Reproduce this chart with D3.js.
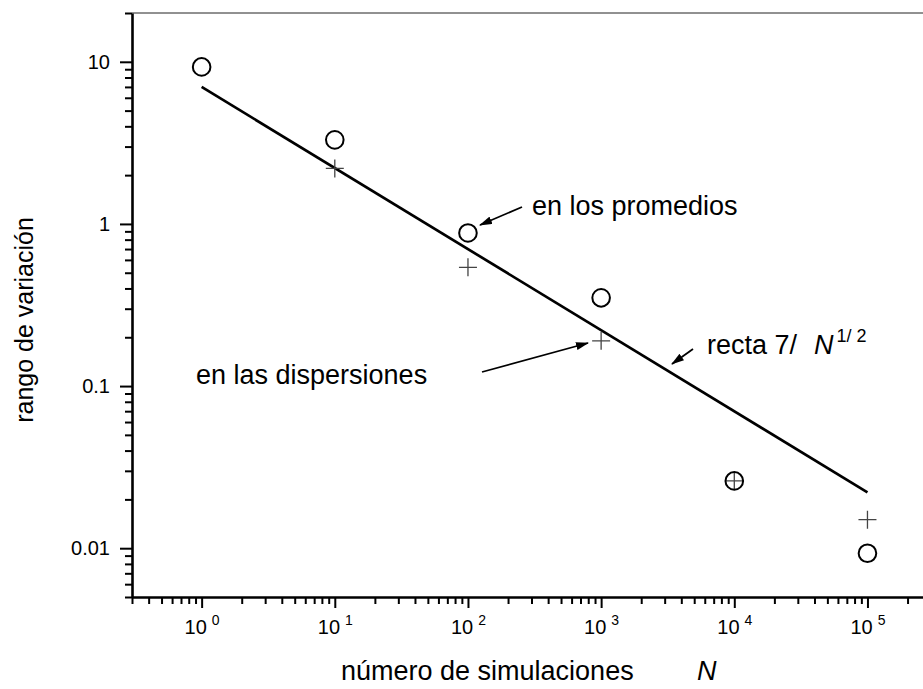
<!DOCTYPE html>
<html>
<head>
<meta charset="utf-8">
<script src="https://cdn.jsdelivr.net/npm/d3@7"></script>
<style>
  body { margin: 0; background: #fff; }
  text { font-family: "Liberation Sans", Arial, sans-serif; fill: #000; }
</style>
</head>
<body>
<div id="chart"></div>
<script>
// data
const simulaciones = [1, 10, 100, 1000, 10000, 100000];
const promedios = [9.3, 3.3, 0.88, 0.35, 0.026, 0.0093];
const dispersionesN = [10, 100, 1000, 10000, 100000];
const dispersiones = [2.2, 0.54, 0.19, 0.026, 0.015];
// fitted line 7/sqrt(N), its two ends
const rectaN = [1, 100000];
const rectaV = [7, 0.0221];
// tick labels
const yTicks = [0.01, 0.1, 1, 10];
const yTickLabels = ["0.01", "0.1", "1", "10"];
const xTicks = [1, 10, 100, 1000, 10000, 100000];

const width = 923, height = 689;
const margin = { top: 13, left: 132, bottom: 92 };

const svg = d3
  .select("#chart")
  .append("svg")
  .attr("width", width)
  .attr("height", height);

// scales
const x = d3.scaleLog().domain([0.3, 3e5]).range([margin.left, 931]);
const y = d3.scaleLog().domain([20, 0.005]).range([margin.top, height - margin.bottom]);

// minor ticks 2..9 per decade
const minorTicks = (lo, hi) => {
  const out = [];
  for (let e = Math.floor(Math.log10(lo)); e <= Math.ceil(Math.log10(hi)); e++) {
    for (let m = 2; m <= 9; m++) {
      const v = m * Math.pow(10, e);
      if (v >= lo && v <= hi) out.push(v);
    }
  }
  return out;
};

// top frame line (thin)
svg
  .append("line")
  .attr("x1", x.range()[0])
  .attr("x2", x.range()[1])
  .attr("y1", y.range()[0])
  .attr("y2", y.range()[0])
  .attr("stroke", "#222")
  .attr("stroke-width", 1);

// Y axis, minor ticks
svg
  .append("g")
  .attr("transform", `translate(${margin.left},0)`)
  .call(d3.axisLeft(y).tickValues(minorTicks(0.005, 20)).tickSize(7).tickSizeOuter(0).tickFormat(""))
  .call((g) => g.selectAll("line").attr("stroke-width", 2))
  .call((g) => g.select(".domain").attr("stroke-width", 2.6));

// Y axis, major ticks
svg
  .append("g")
  .attr("transform", `translate(${margin.left},0)`)
  .call(
    d3
      .axisLeft(y)
      .tickValues(yTicks)
      .tickSize(12)
      .tickSizeOuter(0)
      .tickPadding(10)
      .tickFormat((d, i) => yTickLabels[i])
  )
  .call((g) => g.select(".domain").remove())
  .call((g) => g.selectAll("line").attr("stroke-width", 2))
  .call((g) => g.selectAll("text").attr("font-size", 20).attr("font-family", null));

// X axis, minor ticks
const xAxisY = y.range()[1];
svg
  .append("g")
  .attr("transform", `translate(0,${xAxisY})`)
  .call(d3.axisBottom(x).tickValues(minorTicks(0.3, 3e5)).tickSize(7).tickSizeOuter(0).tickFormat(""))
  .call((g) => g.selectAll("line").attr("stroke-width", 2))
  .call((g) => g.select(".domain").attr("stroke-width", 2.6));

// X axis, major ticks with 10^n labels
svg
  .append("g")
  .attr("transform", `translate(0,${xAxisY})`)
  .call(d3.axisBottom(x).tickValues(xTicks).tickSize(11).tickSizeOuter(0).tickFormat(""))
  .call((g) => g.select(".domain").remove())
  .call((g) => g.selectAll("line").attr("stroke-width", 2))
  .call((g) =>
    g.selectAll(".tick").each(function (d) {
      const t = d3
        .select(this)
        .select("text")
        .attr("y", 37)
        .attr("dy", null)
        .attr("font-size", 20)
        .attr("font-family", null);
      t.append("tspan").text("10");
      t.append("tspan")
        .attr("dx", 5)
        .attr("dy", -9)
        .attr("font-size", 14)
        .text(Math.round(Math.log10(d)));
    })
  );

// axis titles
svg
  .append("text")
  .attr("transform", `translate(33,${(y(yTicks[0]) + y(yTicks[3])) / 2 + 15}) rotate(-90)`)
  .attr("text-anchor", "middle")
  .attr("font-size", 25)
  .text("rango de variación");

svg
  .append("text")
  .attr("x", 341)
  .attr("y", 680)
  .attr("font-size", 27)
  .text("número de simulaciones");

svg
  .append("text")
  .attr("x", 697)
  .attr("y", 680)
  .attr("font-size", 27)
  .attr("font-style", "italic")
  .text("N");

// fitted line
svg
  .append("path")
  .datum(rectaN.map((n, i) => [n, rectaV[i]]))
  .attr("fill", "none")
  .attr("stroke", "#000")
  .attr("stroke-width", 2.7)
  .attr("d", d3.line().x((d) => x(d[0])).y((d) => y(d[1])));

// crosses (dispersiones)
svg
  .append("g")
  .selectAll("path")
  .data(dispersionesN.map((n, i) => [n, dispersiones[i]]))
  .join("path")
  .attr("transform", (d) => `translate(${x(d[0])},${y(d[1])})`)
  .attr("d", "M-9,0H9M0,-9V9")
  .attr("stroke", "#444")
  .attr("stroke-width", 1.3)
  .attr("fill", "none");

// circles (promedios)
svg
  .append("g")
  .selectAll("circle")
  .data(simulaciones.map((n, i) => [n, promedios[i]]))
  .join("circle")
  .attr("cx", (d) => x(d[0]))
  .attr("cy", (d) => y(d[1]))
  .attr("r", 8.8)
  .attr("fill", "none")
  .attr("stroke", "#000")
  .attr("stroke-width", 2);

// arrow marker
svg
  .append("defs")
  .append("marker")
  .attr("id", "arrow")
  .attr("markerUnits", "userSpaceOnUse")
  .attr("markerWidth", 13)
  .attr("markerHeight", 8)
  .attr("refX", 12)
  .attr("refY", 4)
  .attr("orient", "auto")
  .append("path")
  .attr("d", "M0,0L13,4L0,8Z")
  .attr("fill", "#000");

// annotations
const notes = [
  { text: "en los promedios", tx: 532, ty: 215, from: [522, 207], to: [480, 225] },
  { text: "en las dispersiones", tx: 196, ty: 384, from: [482, 372], to: [588, 343] },
  { text: "recta 7/", tx: 707, ty: 354, from: [693, 349], to: [672, 364] }
];

notes.forEach((n) => {
  svg
    .append("line")
    .attr("x1", n.from[0])
    .attr("y1", n.from[1])
    .attr("x2", n.to[0])
    .attr("y2", n.to[1])
    .attr("stroke", "#000")
    .attr("stroke-width", 1.8)
    .attr("marker-end", "url(#arrow)");
  svg.append("text").attr("x", n.tx).attr("y", n.ty).attr("font-size", 27).text(n.text);
});

// N^(1/2) part of the line label
const nLab = svg.append("text").attr("x", 814).attr("y", 354).attr("font-size", 27);
nLab.append("tspan").attr("font-style", "italic").text("N");
nLab.append("tspan").attr("dx", 3).attr("dy", -12).attr("font-size", 18).text("1/ 2");
</script>
</body>
</html>
